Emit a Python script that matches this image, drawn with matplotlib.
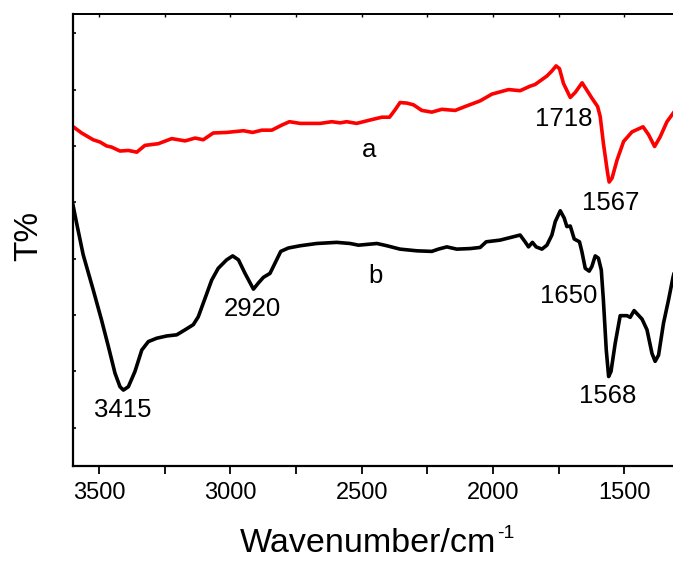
import matplotlib
matplotlib.use("Agg")
import matplotlib.pyplot as plt
from matplotlib.ticker import MultipleLocator, NullFormatter

plt.rcParams['font.family'] = ['Liberation Sans', 'DejaVu Sans']

# spectrum a (red)
wn_a = [3598, 3566, 3522, 3496, 3471, 3452, 3420, 3388, 3356, 3325, 3274, 3223, 3172, 3134,
        3103, 3065, 3014, 2950, 2915, 2880, 2842, 2804, 2775, 2734, 2658, 2614, 2582, 2557,
        2519, 2468, 2423, 2394, 2373, 2354, 2328, 2303, 2271, 2233, 2195, 2144, 2106, 2049,
        2004, 1941, 1897, 1859, 1840, 1795, 1776, 1760, 1747, 1732, 1706, 1687, 1661, 1643,
        1624, 1602, 1592, 1580, 1564, 1558, 1547, 1528, 1503, 1471, 1429, 1408, 1385, 1364,
        1338, 1313, 1290]
t_a = [5.34, 5.23, 5.11, 5.07, 5.00, 4.98, 4.91, 4.92, 4.89, 5.01, 5.04, 5.13, 5.09, 5.14,
       5.11, 5.23, 5.24, 5.27, 5.24, 5.28, 5.28, 5.37, 5.43, 5.40, 5.40, 5.43, 5.41, 5.43,
       5.40, 5.46, 5.51, 5.51, 5.64, 5.77, 5.76, 5.73, 5.63, 5.60, 5.65, 5.63, 5.70, 5.80,
       5.92, 6.00, 5.98, 6.06, 6.09, 6.24, 6.33, 6.42, 6.37, 6.11, 5.86, 5.95, 6.12, 5.99,
       5.85, 5.70, 5.52, 5.05, 4.52, 4.36, 4.43, 4.75, 5.08, 5.25, 5.34, 5.20, 4.99, 5.16,
       5.43, 5.59, 5.75]

# spectrum b (black)
wn_b = [3600, 3585, 3560, 3522, 3490, 3464, 3439, 3420, 3407, 3388, 3363, 3337, 3312, 3280,
        3242, 3204, 3172, 3141, 3122, 3096, 3071, 3046, 3014, 2991, 2969, 2944, 2912, 2893,
        2874, 2849, 2830, 2808, 2779, 2734, 2671, 2595, 2544, 2512, 2442, 2404, 2354, 2290,
        2233, 2208, 2176, 2138, 2087, 2049, 2026, 1973, 1922, 1897, 1878, 1865, 1850, 1836,
        1814, 1795, 1776, 1763, 1744, 1729, 1719, 1706, 1691, 1671, 1662, 1649, 1634, 1624,
        1611, 1599, 1588, 1580, 1569, 1560, 1551, 1535, 1516, 1490, 1478, 1463, 1433, 1414,
        1395, 1383, 1370, 1351, 1332, 1315, 1300]
t_b = [3.98, 3.63, 3.07, 2.45, 1.91, 1.44, 0.97, 0.73, 0.67, 0.73, 1.00, 1.38, 1.53, 1.59,
       1.63, 1.65, 1.74, 1.83, 1.97, 2.30, 2.62, 2.83, 2.98, 3.05, 2.98, 2.74, 2.46, 2.57,
       2.67, 2.74, 2.92, 3.13, 3.19, 3.23, 3.27, 3.29, 3.27, 3.24, 3.27, 3.23, 3.17, 3.14,
       3.13, 3.17, 3.21, 3.17, 3.18, 3.20, 3.30, 3.33, 3.39, 3.42, 3.30, 3.21, 3.29, 3.21,
       3.17, 3.24, 3.42, 3.66, 3.85, 3.72, 3.57, 3.58, 3.35, 3.30, 3.13, 2.83, 2.78, 2.86,
       3.05, 3.01, 2.80, 2.27, 1.38, 0.91, 1.00, 1.50, 1.99, 1.99, 1.96, 2.08, 1.93, 1.74,
       1.32, 1.18, 1.29, 1.86, 2.27, 2.67, 2.95]

# peak labels: text, x, y (baseline)
labels = [("a", 2470, 4.81), ("b", 2449, 2.57),
          ("1718", 1729, 5.35), ("1567", 1554, 3.87),
          ("2920", 2917, 1.99), ("1650", 1711, 2.22),
          ("3415", 3408, 0.20), ("1568", 1562, 0.44)]

fig = plt.figure(figsize=(6.73, 5.61), dpi=100)
ax = fig.add_axes([0.108, 0.170, 0.892, 0.805])

ax.plot(wn_a, t_a, color='#ff0000', lw=2.6, solid_joinstyle='round', solid_capstyle='round')
ax.plot(wn_b, t_b, color='black', lw=2.6, solid_joinstyle='round', solid_capstyle='round')

for txt, x, y in labels:
    ax.text(x, y, txt, fontsize=18.5, ha='center', va='baseline')

ax.set_xlim(3600, 1315)
ax.set_ylim(-0.67, 7.34)

ax.xaxis.set_major_locator(MultipleLocator(500))
ax.xaxis.set_minor_locator(MultipleLocator(250))
ax.yaxis.set_major_locator(MultipleLocator(1))
ax.yaxis.set_major_formatter(NullFormatter())

ax.tick_params(axis='x', which='both', direction='out', length=6, width=1.3,
               labelsize=17, pad=6, top=False)
ax.tick_params(axis='y', which='both', direction='in', length=2.5, width=1.2, right=False)
# tiny inward ticks on the top spine
sec = ax.secondary_xaxis('top')
sec.xaxis.set_major_locator(MultipleLocator(250))
sec.tick_params(direction='in', length=2, width=1.0, labeltop=False)
sec.spines['top'].set_linewidth(1.3)

ax.spines['right'].set_visible(False)
ax.spines['left'].set_linewidth(1.6)
ax.spines['bottom'].set_linewidth(1.6)
ax.spines['top'].set_linewidth(1.3)

fig.text(29 / 673, 1 - 236 / 561, "T%", fontsize=24, rotation=90, ha='center', va='center')
fig.text(368 / 673, 9 / 561, "Wavenumber/cm", fontsize=24.5, ha='center', va='baseline')
fig.text(497 / 673, 23 / 561, "-1", fontsize=14, ha='left', va='baseline')

fig.savefig("out.png", dpi=100)
